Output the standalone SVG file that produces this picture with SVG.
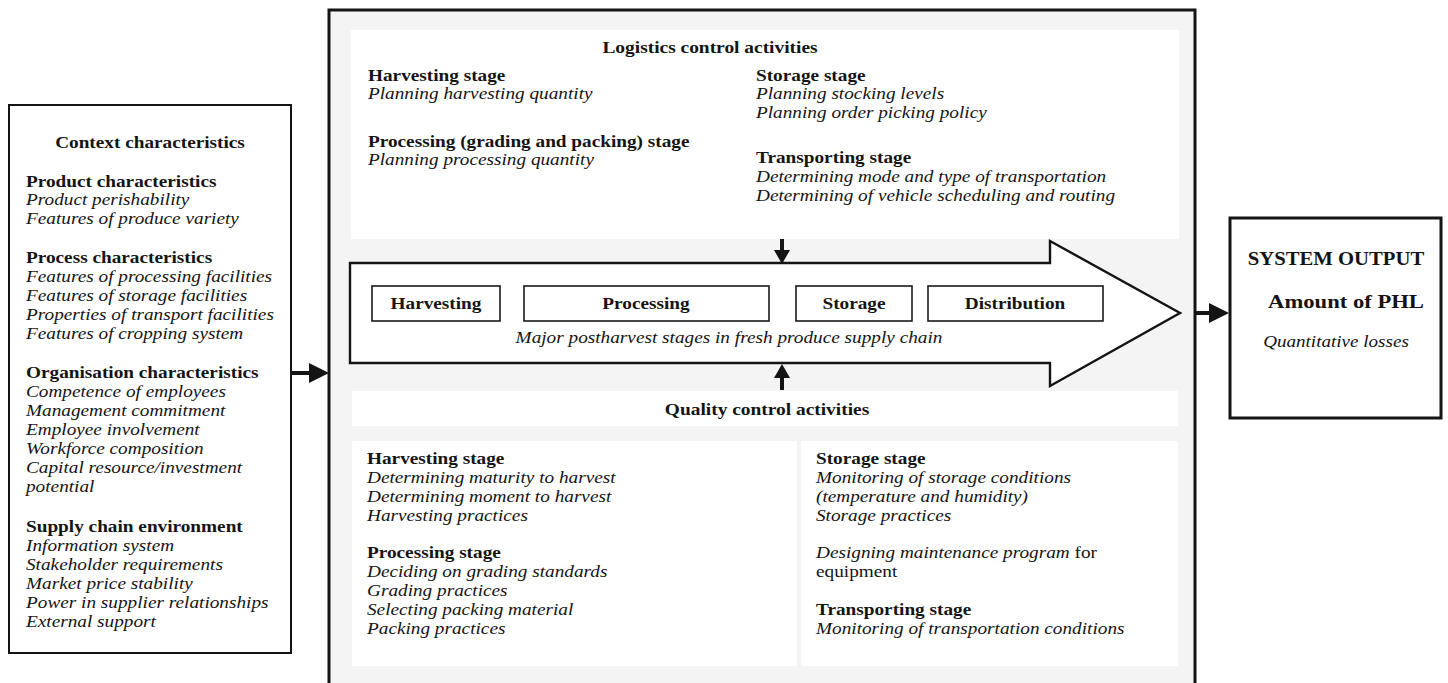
<svg xmlns="http://www.w3.org/2000/svg" width="1448" height="683" viewBox="0 0 1448 683">
  <style>
    text { font-family: "Liberation Serif", "Times New Roman", serif; font-size: 16.6px; fill: #141414; }
    .b { font-weight: bold; }
    .i { font-style: italic; }
    .r { font-style: normal; }
    .c { text-anchor: middle; }
    .frame { fill: #ffffff; stroke: #141414; stroke-width: 2; }
    .frame3 { fill: #ffffff; stroke: #141414; stroke-width: 3; }
    .panel { fill: #ffffff; stroke: none; }
    .stage { fill: #ffffff; stroke: #1a1a1a; stroke-width: 1.6; }
    .conn { stroke: #141414; stroke-width: 4; fill: none; }
    .head { fill: #141414; stroke: none; }
  </style>

  <rect width="1448" height="683" fill="#ffffff"/>

  <!-- Left: context characteristics -->
  <g id="context">
    <rect class="frame" x="9" y="105" width="282" height="548"/>
    <text class="b c" transform="translate(150 148) scale(1.16 1)">Context characteristics</text>
    <text transform="translate(26 187) scale(1.16 1)">
      <tspan class="b" x="0">Product characteristics</tspan>
      <tspan class="i" x="0" dy="18.5">Product perishability</tspan>
      <tspan class="i" x="0" dy="18.5">Features of produce variety</tspan>
    </text>
    <text transform="translate(26 263) scale(1.16 1)">
      <tspan class="b" x="0">Process characteristics</tspan>
      <tspan class="i" x="0" dy="19">Features of processing facilities</tspan>
      <tspan class="i" x="0" dy="19">Features of storage facilities</tspan>
      <tspan class="i" x="0" dy="19">Properties of transport facilities</tspan>
      <tspan class="i" x="0" dy="19">Features of cropping system</tspan>
    </text>
    <text transform="translate(26 378) scale(1.16 1)">
      <tspan class="b" x="0">Organisation characteristics</tspan>
      <tspan class="i" x="0" dy="19">Competence of employees</tspan>
      <tspan class="i" x="0" dy="19">Management commitment</tspan>
      <tspan class="i" x="0" dy="19">Employee involvement</tspan>
      <tspan class="i" x="0" dy="19">Workforce composition</tspan>
      <tspan class="i" x="0" dy="19">Capital resource/investment</tspan>
      <tspan class="i" x="0" dy="19">potential</tspan>
    </text>
    <text transform="translate(26 532) scale(1.16 1)">
      <tspan class="b" x="0">Supply chain environment</tspan>
      <tspan class="i" x="0" dy="19">Information system</tspan>
      <tspan class="i" x="0" dy="19">Stakeholder requirements</tspan>
      <tspan class="i" x="0" dy="19">Market price stability</tspan>
      <tspan class="i" x="0" dy="19">Power in supplier relationships</tspan>
      <tspan class="i" x="0" dy="19">External support</tspan>
    </text>
  </g>

  <!-- Centre: the supply chain system -->
  <g id="system">
    <rect x="329" y="10" width="866" height="700" fill="#f4f4f4" stroke="#141414" stroke-width="3"/>
  </g>

  <g id="logistics">
    <rect class="panel" x="351" y="30" width="828" height="209"/>
    <text class="b c" transform="translate(710 53) scale(1.17 1)">Logistics control activities</text>
    <text transform="translate(368 81) scale(1.16 1)">
      <tspan class="b" x="0">Harvesting stage</tspan>
      <tspan class="i" x="0" dy="18.5">Planning harvesting quantity</tspan>
    </text>
    <text transform="translate(368 147) scale(1.16 1)">
      <tspan class="b" x="0">Processing (grading and packing) stage</tspan>
      <tspan class="i" x="0" dy="18.5">Planning processing quantity</tspan>
    </text>
    <text transform="translate(756 81) scale(1.16 1)">
      <tspan class="b" x="0">Storage stage</tspan>
      <tspan class="i" x="0" dy="18.5">Planning stocking levels</tspan>
      <tspan class="i" x="0" dy="18.5">Planning order picking policy</tspan>
    </text>
    <text transform="translate(756 163) scale(1.16 1)">
      <tspan class="b" x="0">Transporting stage</tspan>
      <tspan class="i" x="0" dy="19">Determining mode and type of transportation</tspan>
      <tspan class="i" x="0" dy="19">Determining of vehicle scheduling and routing</tspan>
    </text>
  </g>

  <g id="stages">
    <polygon points="350,263 1050,263 1050,241 1180,313 1050,386 1050,363 350,363" fill="#ffffff" stroke="#141414" stroke-width="2.4" stroke-linejoin="miter"/>
    <g id="harvesting">
      <rect class="stage" x="372" y="286" width="128" height="35"/>
      <text class="b c" transform="translate(436 309) scale(1.16 1)">Harvesting</text>
    </g>
    <g id="processing">
      <rect class="stage" x="524" y="286" width="245" height="35"/>
      <text class="b c" transform="translate(646 309) scale(1.16 1)">Processing</text>
    </g>
    <g id="storage">
      <rect class="stage" x="796" y="286" width="116" height="35"/>
      <text class="b c" transform="translate(854 309) scale(1.16 1)">Storage</text>
    </g>
    <g id="distribution">
      <rect class="stage" x="928" y="286" width="175" height="35"/>
      <text class="b c" transform="translate(1015 309) scale(1.16 1)">Distribution</text>
    </g>
    <text class="i c" transform="translate(729 343) scale(1.16 1)">Major postharvest stages in fresh produce supply chain</text>
  </g>

  <g id="quality">
    <rect class="panel" x="352" y="391" width="826" height="35"/>
    <text class="b c" transform="translate(767 415) scale(1.17 1)">Quality control activities</text>
    <rect class="panel" x="352" y="441" width="445" height="225"/>
    <rect class="panel" x="801" y="441" width="377" height="225"/>
    <text transform="translate(367 464) scale(1.16 1)">
      <tspan class="b" x="0">Harvesting stage</tspan>
      <tspan class="i" x="0" dy="19">Determining maturity to harvest</tspan>
      <tspan class="i" x="0" dy="19">Determining moment to harvest</tspan>
      <tspan class="i" x="0" dy="19">Harvesting practices</tspan>
    </text>
    <text transform="translate(367 558) scale(1.16 1)">
      <tspan class="b" x="0">Processing stage</tspan>
      <tspan class="i" x="0" dy="19">Deciding on grading standards</tspan>
      <tspan class="i" x="0" dy="19">Grading practices</tspan>
      <tspan class="i" x="0" dy="19">Selecting packing material</tspan>
      <tspan class="i" x="0" dy="19">Packing practices</tspan>
    </text>
    <text transform="translate(816 464) scale(1.16 1)">
      <tspan class="b" x="0">Storage stage</tspan>
      <tspan class="i" x="0" dy="19">Monitoring of storage conditions</tspan>
      <tspan class="i" x="0" dy="19">(temperature and humidity)</tspan>
      <tspan class="i" x="0" dy="19">Storage practices</tspan>
    </text>
    <text transform="translate(816 558) scale(1.16 1)">
      <tspan class="i" x="0">Designing maintenance program</tspan><tspan class="r"> for</tspan>
      <tspan class="r" x="0" dy="19">equipment</tspan>
    </text>
    <text transform="translate(816 615) scale(1.16 1)">
      <tspan class="b" x="0">Transporting stage</tspan>
      <tspan class="i" x="0" dy="19">Monitoring of transportation conditions</tspan>
    </text>
  </g>

  <!-- Right: system output -->
  <g id="output">
    <rect class="frame3" x="1230" y="218" width="211" height="200"/>
    <text class="b c" style="font-size:18px" transform="translate(1336 265) scale(1.15 1)">SYSTEM OUTPUT</text>
    <text class="b c" style="font-size:19.5px" transform="translate(1346 308) scale(1.16 1)">Amount of PHL</text>
    <text class="i c" transform="translate(1336 347) scale(1.15 1)">Quantitative losses</text>
  </g>

  <!-- Connectors -->
  <g id="connectors">
    <line class="conn" x1="291" y1="373" x2="312" y2="373"/>
    <polygon class="head" points="309,363 329,373 309,383"/>
    <line class="conn" x1="1196" y1="313" x2="1212" y2="313"/>
    <polygon class="head" points="1209,303 1229,313 1209,323"/>
    <line class="conn" x1="782" y1="239" x2="782" y2="252" stroke-width="5"/>
    <polygon class="head" points="774,250 790,250 782,264"/>
    <line class="conn" x1="782" y1="376" x2="782" y2="390" stroke-width="5"/>
    <polygon class="head" points="774,378 790,378 782,364"/>
  </g>
</svg>
